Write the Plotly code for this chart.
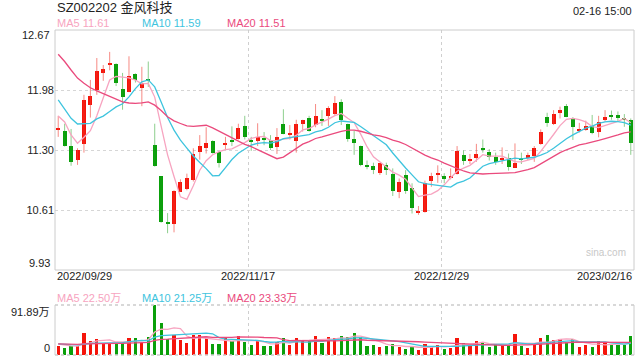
import plotly.graph_objects as go
import pandas as pd

# ---------------- data ----------------
x_labels = ["2022/09/29", "2022/11/17", "2022/12/29", "2023/02/16"]
x_label_idx = [0, 30, 60, 89]

open_ = [11.53, 11.52, 11.35, 11.19, 11.37, 11.81, 11.99, 12.175, 12.275, 12.28,
         12.00, 11.965, 12.17, 12.01, 12.105, 11.36, 11.00, 10.48, 10.46, 10.82,
         10.86, 10.96, 11.28, 11.32, 11.40, 11.28, 11.36, 11.415, 11.425, 11.575,
         11.415, 11.40, 11.44, 11.415, 11.34, 11.60, 11.478, 11.405, 11.595, 11.66,
         11.585, 11.65, 11.69, 11.71, 11.85, 11.60, 11.42, 11.345, 11.125, 11.115,
         11.04, 11.125, 11.025, 10.825, 11.015, 10.865, 10.59, 10.595, 10.95, 11.02,
         11.005, 10.99, 11.025, 11.245, 11.182, 11.205, 11.323, 11.28, 11.215, 11.19,
         11.205, 11.10, 11.205, 11.205, 11.23, 11.365, 11.675, 11.595, 11.725, 11.80,
         11.66, 11.525, 11.53, 11.575, 11.50, 11.645, 11.692, 11.70, 11.655, 11.645]
high_ = [11.69, 11.60, 11.54, 11.32, 11.93, 12.10, 12.35, 12.27, 12.42, 12.29,
         12.18, 12.37, 12.175, 12.25, 12.31, 11.60, 11.00, 10.58, 10.84, 10.965,
         11.03, 11.32, 11.47, 11.56, 11.41, 11.285, 11.45, 11.57, 11.60, 11.69,
         11.45, 11.605, 11.505, 11.47, 11.55, 11.765, 11.585, 11.645, 11.645, 11.69,
         11.825, 11.755, 11.80, 11.915, 11.88, 11.60, 11.52, 11.35, 11.18, 11.155,
         11.15, 11.155, 11.09, 10.975, 11.07, 10.92, 10.66, 10.95, 11.04, 11.125,
         11.035, 11.09, 11.345, 11.295, 11.255, 11.37, 11.42, 11.31, 11.27, 11.33,
         11.26, 11.375, 11.27, 11.27, 11.345, 11.535, 11.725, 11.755, 11.795, 11.825,
         11.675, 11.61, 11.635, 11.70, 11.69, 11.755, 11.75, 11.74, 11.71, 11.66]
low_ = [11.45, 11.34, 11.12, 11.13, 11.27, 11.67, 11.93, 12.09, 12.21, 12.03,
        11.76, 11.96, 12.07, 11.80, 12.02, 11.11, 10.47, 10.35, 10.36, 10.82,
        10.84, 10.94, 11.19, 11.26, 11.26, 11.10, 11.31, 11.345, 11.42, 11.42,
        11.29, 11.345, 11.355, 11.30, 11.255, 11.48, 11.42, 11.27, 11.51, 11.51,
        11.56, 11.575, 11.575, 11.70, 11.585, 11.395, 11.245, 11.115, 11.08, 11.025,
        11.015, 11.015, 10.775, 10.75, 10.80, 10.575, 10.56, 10.585, 10.88, 10.925,
        10.92, 10.965, 11.02, 11.13, 11.14, 11.165, 11.27, 11.18, 11.13, 11.14,
        11.065, 11.10, 11.14, 11.185, 11.165, 11.36, 11.565, 11.585, 11.66, 11.675,
        11.415, 11.50, 11.52, 11.48, 11.445, 11.625, 11.645, 11.625, 11.565, 11.245]
close_ = [11.545, 11.35, 11.16, 11.30, 11.87, 11.92, 12.20, 12.225, 12.285, 12.07,
          11.90, 12.14, 12.10, 12.07, 12.09, 11.12, 10.48, 10.465, 10.83, 10.93,
          10.98, 11.255, 11.35, 11.375, 11.27, 11.155, 11.37, 11.40, 11.55, 11.445,
          11.40, 11.45, 11.425, 11.32, 11.445, 11.485, 11.487, 11.595, 11.64, 11.52,
          11.69, 11.635, 11.775, 11.84, 11.645, 11.42, 11.385, 11.13, 11.11, 11.07,
          11.15, 11.07, 10.835, 10.94, 10.835, 10.635, 10.597, 10.92, 11.00, 11.03,
          10.965, 11.00, 11.29, 11.18, 11.19, 11.26, 11.31, 11.215, 11.165, 11.197,
          11.11, 11.155, 11.195, 11.245, 11.32, 11.505, 11.605, 11.71, 11.755, 11.68,
          11.56, 11.532, 11.575, 11.49, 11.625, 11.675, 11.68, 11.67, 11.647, 11.385]
# volume, in 万 (10k shares)
volume = [16.5, 12.3, 16.5, 16.5, 41.1, 25.7, 29.4, 21.4, 21.4, 21.4,
          21.4, 31.9, 31.9, 22.7, 33.1, 91.89, 58.2, 28.8, 36.8, 27.6,
          22.7, 36.8, 36.8, 30.6, 20.2, 20.2, 30.6, 26.3, 34.9, 24.5,
          18.4, 26.3, 16.5, 16.5, 24.5, 31.9, 19.0, 31.9, 26.3, 26.3,
          34.9, 22.7, 33.7, 30.6, 34.9, 33.7, 41.1, 32.5, 16.5, 18.4,
          15.3, 16.5, 20.2, 15.3, 11.0, 15.3, 9.2, 20.2, 15.3, 18.4,
          11.0, 13.5, 30.6, 21.4, 18.4, 25.7, 22.7, 15.3, 18.4, 18.4,
          18.4, 38.6, 16.5, 12.9, 20.2, 30.6, 36.8, 27.6, 28.8, 24.5,
          28.5, 14.5, 17.5, 14.5, 25.5, 21.4, 18.4, 18.4, 18.4, 34.9]
# sessions before 2022/09/29, estimated from where the MA lines start
prior_close = [13.0, 13.1, 13.15, 13.05, 12.95, 12.9, 12.85, 12.8, 12.75, 12.6,
               12.4, 12.2, 11.95, 11.85, 11.87, 11.69, 11.905, 11.77, 11.53]
prior_volume = [22.0, 19.5, 21.0, 23.5, 18.0, 20.5, 22.5, 19.0, 21.5, 20.0,
                24.0, 18.5, 20.5, 22.0, 19.5, 21.0, 23.0, 18.5, 20.0]

ma_price_text = ["MA5 11.61", "MA10 11.59", "MA20 11.51"]
ma_vol_text = ["MA5 22.50万", "MA10 21.25万", "MA20 23.33万"]
price_ticks = [11.985, 11.30, 10.615]
price_tick_text = ["11.98", "11.30", "10.61"]
price_range = [9.93, 12.67]
vol_max = 91.89

# ---------------- styling ----------------
RED = "#f5140a"
GREEN = "#0aa00a"
RED_WICK = "rgba(240,60,50,0.6)"
GREEN_WICK = "rgba(30,160,30,0.5)"
C_MA5 = "#f7a4c0"
C_MA10 = "#3ec4de"
C_MA20 = "#ea4a7d"
FONT = "Liberation Sans, Arial, Noto Sans CJK SC, sans-serif"

n = len(close_)
idx = list(range(n))
up = [c >= o for o, c in zip(open_, close_)]
colors = [RED if u else GREEN for u in up]

closes_all = pd.Series(prior_close + close_)
vols_all = pd.Series(prior_volume + volume)
k = len(prior_close)
ma = {w: closes_all.rolling(w).mean().iloc[k:].tolist() for w in (5, 10, 20)}
vma = {w: vols_all.rolling(w).mean().iloc[k:].tolist() for w in (5, 10, 20)}

fig = go.Figure()

# wicks
for flag, col in ((True, RED_WICK), (False, GREEN_WICK)):
    wx, wy = [], []
    for i in idx:
        if up[i] == flag:
            wx += [i, i, None]
            wy += [low_[i], high_[i], None]
    fig.add_trace(go.Scatter(x=wx, y=wy, mode="lines", line=dict(color=col, width=1),
                             hoverinfo="skip", showlegend=False, xaxis="x", yaxis="y"))

# bodies
base = [min(o, c) for o, c in zip(open_, close_)]
height = [max(abs(c - o), 0.012) for o, c in zip(open_, close_)]
fig.add_trace(go.Bar(x=idx, y=height, base=base, marker=dict(color=colors, line=dict(width=0)),
                     width=0.62, showlegend=False, xaxis="x", yaxis="y"))

# MA lines
for w, col in ((5, C_MA5), (10, C_MA10), (20, C_MA20)):
    fig.add_trace(go.Scatter(x=idx, y=ma[w], mode="lines", line=dict(color=col, width=1.3),
                             showlegend=False, xaxis="x", yaxis="y"))

# volume
fig.add_trace(go.Bar(x=idx, y=volume, marker=dict(color=colors, line=dict(width=0)),
                     width=0.5, showlegend=False, xaxis="x2", yaxis="y2"))
for w, col in ((5, C_MA5), (10, C_MA10), (20, C_MA20)):
    fig.add_trace(go.Scatter(x=idx, y=vma[w], mode="lines", line=dict(color=col, width=1.3),
                             showlegend=False, xaxis="x2", yaxis="y2"))

# ---------------- layout ----------------
TOP, BOTTOM = 30, 5
H = 360
plot_h = H - TOP - BOTTOM


def py(pix):
    return (H - BOTTOM - pix) / plot_h


L, R = 55, 6
plot_w = 640 - L - R


def px(pix):
    return (pix - L) / plot_w


main_dom = [py(270), 1]
vol_dom = [0, py(305)]

xcommon = dict(range=[-0.5, n - 0.5], tickvals=[29.5, 59.5], showticklabels=False,
               showgrid=True, gridcolor="#cfcfcf", griddash="3px,3px", gridwidth=1,
               zeroline=False, showline=False, ticks="", fixedrange=True)

fig.update_layout(
    width=640, height=360,
    margin=dict(l=L, r=R, t=TOP, b=BOTTOM),
    paper_bgcolor="white", plot_bgcolor="white",
    bargap=0, barmode="overlay",
    font=dict(family=FONT, size=11, color="#222"),
    xaxis=dict(domain=[0, 1], anchor="y", **xcommon),
    xaxis2=dict(domain=[0, 1], anchor="y2", matches="x", **xcommon),
    yaxis=dict(domain=main_dom, range=price_range, tickvals=price_ticks, ticktext=price_tick_text,
               showgrid=True, gridcolor="#d6d6d6", griddash="dot", zeroline=False,
               showline=False, ticks="", tickfont=dict(size=11, color="#222"), fixedrange=True),
    yaxis2=dict(domain=vol_dom, range=[0, vol_max], showticklabels=False, showgrid=False,
                zeroline=False, showline=False, ticks="", fixedrange=True),
)

shapes = [
    dict(type="rect", xref="x domain", yref="y domain", x0=0, x1=1, y0=0, y1=1,
         line=dict(color="#cccccc", width=1)),
    dict(type="line", xref="x2 domain", yref="y2 domain", x0=0, x1=0, y0=0, y1=1,
         line=dict(color="#cccccc", width=1)),
    dict(type="line", xref="x2 domain", yref="y2 domain", x0=1, x1=1, y0=0, y1=1,
         line=dict(color="#cccccc", width=1)),
    dict(type="line", xref="x2 domain", yref="y2 domain", x0=0, x1=1, y0=1, y1=1,
         line=dict(color="#cccccc", width=1.5, dash="dot")),
    dict(type="line", xref="x2 domain", yref="y2 domain", x0=0, x1=1, y0=0, y1=0,
         line=dict(color="#cccccc", width=1.5, dash="dot")),
]
fig.update_layout(shapes=shapes)

ann = []
ann.append(dict(text="SZ002202 金风科技", xref="paper", yref="paper", x=0, y=py(8),
                xanchor="left", yanchor="middle", showarrow=False, font=dict(size=13, color="#222")))
ann.append(dict(text="02-16 15:00", xref="paper", yref="paper", x=1, y=py(11),
                xanchor="right", yanchor="middle", showarrow=False, font=dict(size=11, color="#222")))
for t, col, xp in zip(ma_price_text, (C_MA5, C_MA10, C_MA20), (55, 140, 225)):
    ann.append(dict(text=t, xref="paper", yref="paper", x=px(xp), y=py(23),
                    xanchor="left", yanchor="middle", showarrow=False, font=dict(size=11, color=col)))
for t, col, xp in zip(ma_vol_text, (C_MA5, C_MA10, C_MA20), (55, 140, 225)):
    ann.append(dict(text=t, xref="paper", yref="paper", x=px(xp), y=py(298),
                    xanchor="left", yanchor="middle", showarrow=False, font=dict(size=11, color=col)))
# end labels of the price axis and volume axis
for t, ypix in (("%.2f" % price_range[1], 35), ("%.2f" % price_range[0], 263),
                ("%.2f万" % vol_max, 312), ("0", 348)):
    ann.append(dict(text=t, xref="paper", yref="paper", x=0, y=py(ypix), xshift=-3,
                    xanchor="right", yanchor="middle", showarrow=False, font=dict(size=11, color="#222")))
# date labels
for j, (t, i) in enumerate(zip(x_labels, x_label_idx)):
    if j == 0:
        xv, xa = i - 0.5, "left"
    elif j == len(x_labels) - 1:
        xv, xa = i + 0.5, "right"
    else:
        xv, xa = i - 0.5, "center"
    ann.append(dict(text=t, xref="x", yref="paper", x=xv, y=py(276), xanchor=xa,
                    yanchor="middle", showarrow=False, font=dict(size=11, color="#222")))
ann.append(dict(text="sina.com", xref="paper", yref="paper", x=px(606), y=py(252),
                xanchor="center", yanchor="middle", showarrow=False, font=dict(size=10, color="#c8c8c8")))
fig.update_layout(annotations=ann)

fig.write_html("out.html", config={"displayModeBar": False},
               post_script="document.body.style.margin='0';document.body.style.overflow='hidden';")
